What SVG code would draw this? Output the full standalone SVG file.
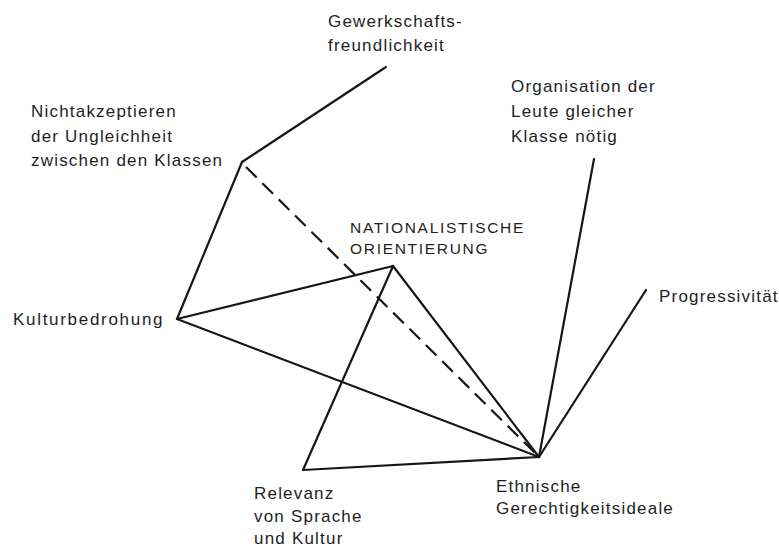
<svg xmlns="http://www.w3.org/2000/svg" width="779" height="549" viewBox="0 0 779 549">
<style>
.bg{fill:#ffffff}
.lbl{font-family:"Liberation Sans",Arial,sans-serif;font-size:17px;letter-spacing:1.2px;fill:#1e1e1e}
.cap{font-size:15.5px;letter-spacing:1.7px}
.wide{letter-spacing:1.7px}
.edge{stroke:#161616;stroke-width:2.2;fill:none;stroke-linecap:round;stroke-linejoin:round}
.dash{stroke-dasharray:15 8;stroke-linecap:butt}
</style>
<rect class="bg" x="0" y="0" width="779" height="549"/>
<g id="connectors">
<line class="edge" x1="242" y1="162" x2="386" y2="67"/>
<line class="edge" x1="242" y1="162" x2="177" y2="319"/>
<line class="edge dash" x1="246" y1="167" x2="536" y2="454"/>
<line class="edge" x1="177" y1="319" x2="393" y2="266"/>
<line class="edge" x1="177" y1="319" x2="539" y2="457"/>
<line class="edge" x1="393" y1="266" x2="539" y2="457"/>
<line class="edge" x1="393" y1="266" x2="303" y2="470"/>
<line class="edge" x1="303" y1="470" x2="539" y2="457"/>
<line class="edge" x1="539" y1="457" x2="594" y2="159"/>
<line class="edge" x1="539" y1="457" x2="646" y2="290"/>
</g>
<g id="gewerkschaft">
<text class="lbl" x="328" y="27">Gewerkschafts-</text>
<text class="lbl" x="328" y="51">freundlichkeit</text>
</g>
<g id="nichtakzeptieren">
<text class="lbl" x="31" y="117">Nichtakzeptieren</text>
<text class="lbl" x="31" y="142">der Ungleichheit</text>
<text class="lbl" x="31" y="166">zwischen den Klassen</text>
</g>
<g id="organisation">
<text class="lbl" x="511" y="92">Organisation der</text>
<text class="lbl" x="511" y="117">Leute gleicher</text>
<text class="lbl" x="511" y="142">Klasse nötig</text>
</g>
<g id="nationalistisch">
<text class="lbl cap" x="350" y="233">NATIONALISTISCHE</text>
<text class="lbl cap" x="350" y="254">ORIENTIERUNG</text>
</g>
<g id="kulturbedrohung">
<text class="lbl wide" x="13" y="325">Kulturbedrohung</text>
</g>
<g id="progressivitaet">
<text class="lbl" x="659" y="302">Progressivität</text>
</g>
<g id="ethnische">
<text class="lbl" x="496" y="492">Ethnische</text>
<text class="lbl" x="496" y="514">Gerechtigkeitsideale</text>
</g>
<g id="relevanz">
<text class="lbl" x="254" y="499">Relevanz</text>
<text class="lbl" x="254" y="522">von Sprache</text>
<text class="lbl" x="254" y="544">und Kultur</text>
</g>
</svg>
